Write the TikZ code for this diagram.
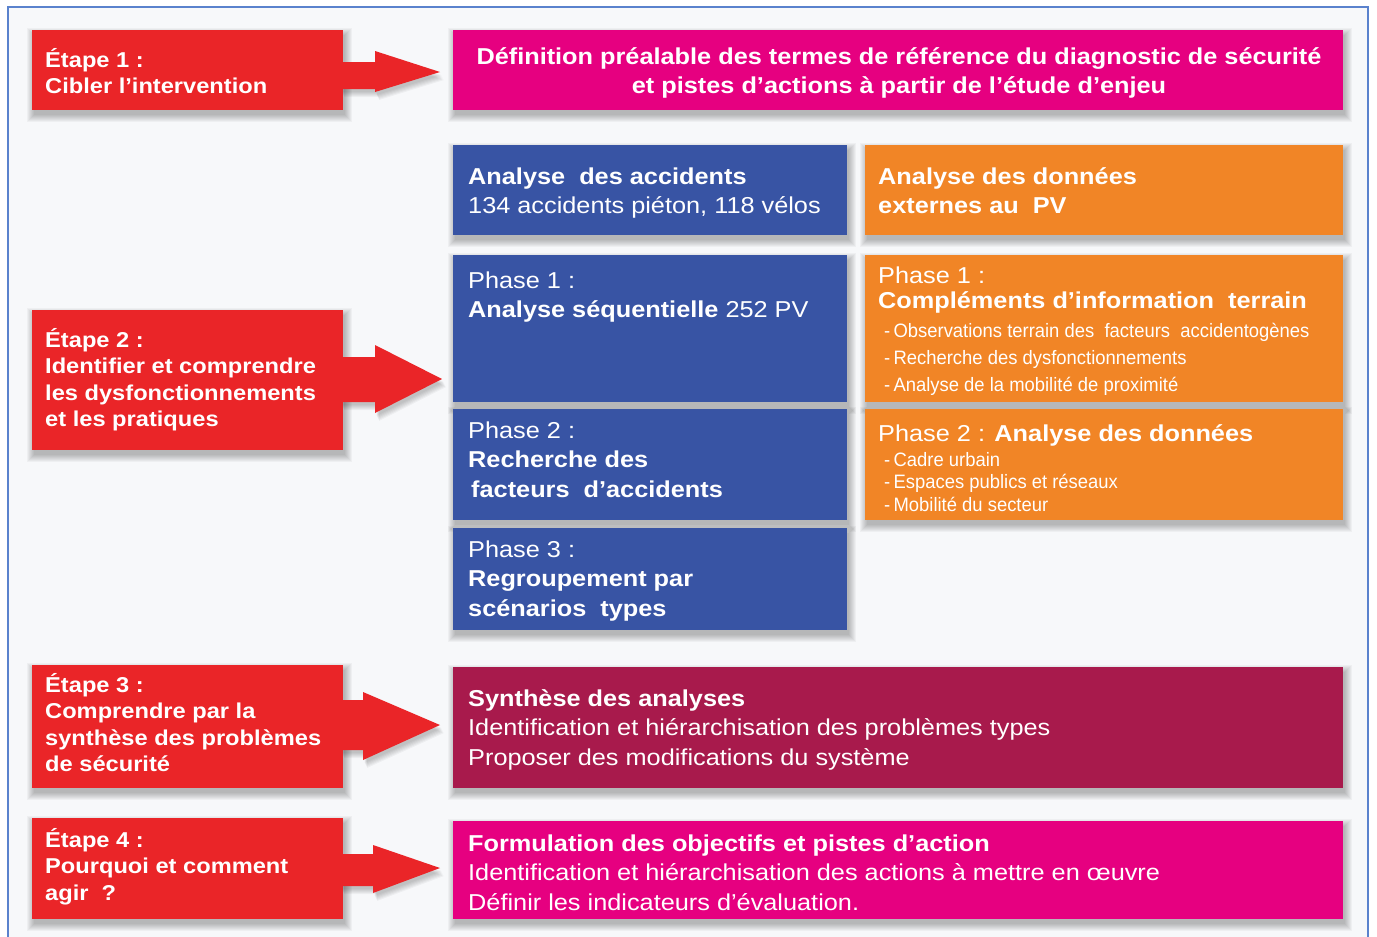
\documentclass[tikz,border=0pt]{standalone}
\usepackage{fontspec}
\setmainfont{Liberation Sans}[FakeStretch=1.1]
\newfontfamily\narrowf{Liberation Sans}[FakeStretch=0.95]
\usetikzlibrary{calc}
\pgfdeclarelayer{back}
\pgfdeclarelayer{shadowlayer}
\pgfsetlayers{back,shadowlayer,main}
\definecolor{etred}{RGB}{234,37,40}
\definecolor{magen}{RGB}{230,0,128}
\definecolor{blueb}{RGB}{56,84,164}
\definecolor{orang}{RGB}{241,133,38}
\definecolor{crims}{RGB}{168,26,76}
\definecolor{bgc}{RGB}{247,248,250}
\definecolor{framec}{RGB}{90,130,205}
\newcommand\tl[1]{\begin{tabular}[t]{@{}l@{}}#1\end{tabular}}
\newcommand\tc[1]{\begin{tabular}[t]{@{}c@{}}#1\end{tabular}}
\newcommand\etf{\fontsize{21.5}{26.5}\selectfont\bfseries}
\newcommand\mainf{\fontsize{23}{29.5}\selectfont}
\newcommand\orhf{\fontsize{23}{25.5}\selectfont}
\newcommand\bulf{\narrowf\fontsize{19.4}{27.3}\selectfont}
\newcommand\bulg{\narrowf\fontsize{19.4}{22.5}\selectfont}
% soft shadow behind a named box
\newcommand\shd[1]{\begin{pgfonlayer}{shadowlayer}\foreach \i in {0,...,7}{\fill[black,opacity=0.035] ($(#1.south west)+(2-\i,-5-\i)$) rectangle ($(#1.north east)+(2+\i,-5+\i)$);}\end{pgfonlayer}}
% block arrows with their shadow
\newcommand\blockarrow[1]{\begin{pgfonlayer}{shadowlayer}\foreach \i in {1,...,6}{\fill[black,opacity=0.04,shift={(1+0.5*\i,-2-\i)}] #1;}\end{pgfonlayer}\fill[etred] #1;}
\begin{document}
\begin{tikzpicture}[x=1pt,y=1pt,
  box/.style={draw=none,inner sep=0pt,anchor=north west},
  txt/.style={anchor=base west,inner sep=0pt,text=white}]
\useasboundingbox (0,0) rectangle (1377,-937);
\begin{pgfonlayer}{back}
\fill[white] (0,0) rectangle (1377,-937);
\fill[bgc] (8,-7) rectangle (1368,-937);
\draw[framec,line width=1.3pt] (8,-940) -- (8,-7) -- (1368,-7) -- (1368,-940);
\end{pgfonlayer}

% block arrows
\blockarrow{(340,-62) -- (375,-62) -- (375,-51) -- (440,-72) -- (375,-92) -- (375,-89) -- (340,-89) -- cycle}
\blockarrow{(340,-357) -- (375,-357) -- (375,-345) -- (442,-379) -- (375,-413) -- (375,-402) -- (340,-402) -- cycle}
\blockarrow{(340,-700) -- (363,-700) -- (363,-692) -- (440,-725) -- (363,-760) -- (363,-750) -- (340,-750) -- cycle}
\blockarrow{(340,-854) -- (373,-854) -- (373,-845) -- (440,-868) -- (373,-893) -- (373,-886) -- (340,-886) -- cycle}

% step boxes
\node[box,fill=etred,minimum width=311,minimum height=80] (e1) at (32,-30) {};
\node[box,fill=etred,minimum width=311,minimum height=140] (e2) at (32,-310) {};
\node[box,fill=etred,minimum width=311,minimum height=123] (e3) at (32,-665) {};
\node[box,fill=etred,minimum width=311,minimum height=101] (e4) at (32,-818) {};
\node[txt,font=\etf] (e1t) at (45,-67) {\tl{Étape 1 :\\Cibler l’intervention}};
\node[txt,font=\etf] (e2t) at (45,-347) {\tl{Étape 2 :\\Identifier et comprendre\\les dysfonctionnements\\et les pratiques}};
\node[txt,font=\etf] (e3t) at (45,-692) {\tl{Étape 3 :\\Comprendre par la\\synthèse des problèmes\\de sécurité}};
\node[txt,font=\etf] (e4t) at (45,-847) {\tl{Étape 4 :\\Pourquoi et comment\\agir \ ?}};

% right column
\node[box,fill=magen,minimum width=890,minimum height=80] (def) at (453,-30) {};
\node[txt,anchor=base,font=\mainf\bfseries] (deft) at (899,-64) {\tc{Définition préalable des termes de référence du diagnostic de sécurité\\et pistes d’actions à partir de l’étude d’enjeu}};

\node[box,fill=blueb,minimum width=394,minimum height=90] (acc) at (453,-145) {};
\node[txt,font=\mainf] (acct) at (468,-184) {\tl{\textbf{Analyse \ des accidents}\\134 accidents piéton, 118 vélos}};
\node[box,fill=orang,minimum width=478,minimum height=90] (ext) at (865,-145) {};
\node[txt,font=\mainf\bfseries] (extt) at (878,-184) {\tl{Analyse des données\\externes au \ PV}};

\node[box,fill=blueb,minimum width=394,minimum height=147] (p1) at (453,-255) {};
\node[txt,font=\mainf] (p1t) at (468,-288) {\tl{Phase 1 :\\\textbf{Analyse séquentielle} 252 PV}};
\node[box,fill=blueb,minimum width=394,minimum height=111] (p2) at (453,-409) {};
\node[txt,font=\mainf] (p2t) at (468,-438) {\tl{Phase 2 :\\\textbf{Recherche des}\\\hspace{3pt}\textbf{facteurs \ d’accidents}}};
\node[box,fill=blueb,minimum width=394,minimum height=102] (p3) at (453,-528) {};
\node[txt,font=\mainf] (p3t) at (468,-557) {\tl{Phase 3 :\\\textbf{Regroupement par}\\\textbf{scénarios \ types}}};

\node[box,fill=orang,minimum width=478,minimum height=147] (o1) at (865,-255) {};
\node[txt,font=\orhf] (o1t) at (878,-283) {\tl{Phase 1 :\\\textbf{Compléments d’information \ terrain}}};
\node[txt,font=\bulf] (o1b) at (884,-337) {\tl{-\,Observations terrain des \ facteurs \ accidentogènes\\-\,Recherche des dysfonctionnements\\-\,Analyse de la mobilité de proximité}};
\node[box,fill=orang,minimum width=478,minimum height=111] (o2) at (865,-409) {};
\node[txt,font=\mainf] (o2t) at (878,-441) {Phase 2 : \textbf{Analyse des données}};
\node[txt,font=\bulg] (o2b) at (884,-466) {\tl{-\,Cadre urbain\\-\,Espaces publics et réseaux\\-\,Mobilité du secteur}};

\node[box,fill=crims,minimum width=890,minimum height=121] (syn) at (453,-667) {};
\node[txt,font=\mainf] (synt) at (468,-706) {\tl{\textbf{Synthèse des analyses}\\Identification et hiérarchisation des problèmes types\\Proposer des modifications du système}};
\node[box,fill=magen,minimum width=890,minimum height=98] (form) at (453,-821) {};
\node[txt,font=\mainf] (formt) at (468,-851) {\tl{\textbf{Formulation des objectifs et pistes d’action}\\Identification et hiérarchisation des actions à mettre en œuvre\\Définir les indicateurs d’évaluation.}};

% shadows
\foreach \n in {e1,e2,e3,e4,def,acc,ext,p1,p2,p3,o1,o2,syn,form}{\shd{\n}}
\end{tikzpicture}
\end{document}
